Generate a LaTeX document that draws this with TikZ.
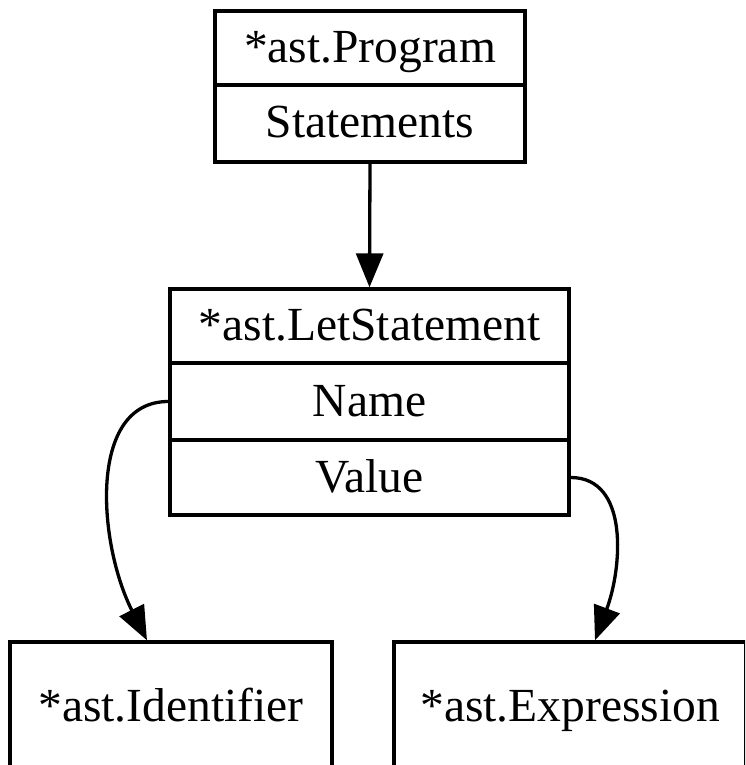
\documentclass[tikz,border=0pt]{standalone}
\usepackage{fontspec}
\setmainfont{Liberation Serif}
\usetikzlibrary{arrows.meta,calc}
\begin{document}
\begin{tikzpicture}[x=1pt,y=-1pt,
  field/.style={draw=black, line width=3.3pt, inner sep=0pt, fill=white,
    font=\fontsize{47.5}{57}\selectfont, text height=37.6pt, text depth=8.6pt,
    minimum height=#1},
  field/.default=75.5pt,
  link/.style={line width=3.3pt, -{Triangle[length=34pt,width=27pt]}}]
\clip (0,0) rectangle (745,765);
\fill[white] (0,0) rectangle (745,765);
% top record
\node[field=74pt, minimum width=310pt] (progt) at (370,48) {*ast.Program};
\node[field=77pt, minimum width=310pt] (progs) at (370,123.5) {Statements};
% middle record
\node[field=74pt, minimum width=399pt] (lett) at (369.5,326) {*ast.LetStatement};
\node[field=77pt, minimum width=399pt] (letn) at (369.5,401.5) {Name};
\node[field=75pt, minimum width=399pt] (letv) at (369.5,477.5) {Value};
% bottom nodes
\node[field=130pt, minimum width=322pt] (ident) at (171,707) {*ast.Identifier};
\node[field=130pt, minimum width=352pt] (expr) at (570,707) {*ast.Expression};
% connectors
\draw[link] (progs.south) -- (lett.north);
\draw[link] (letn.west) .. controls +(-81,0) and +(-49,-97) .. ($(ident.north)+(-24,0)$);
\draw[link] (letv.east) .. controls +(59,0) and +(27,-72) .. ($(expr.north)+(25,0)$);
\end{tikzpicture}
\end{document}
